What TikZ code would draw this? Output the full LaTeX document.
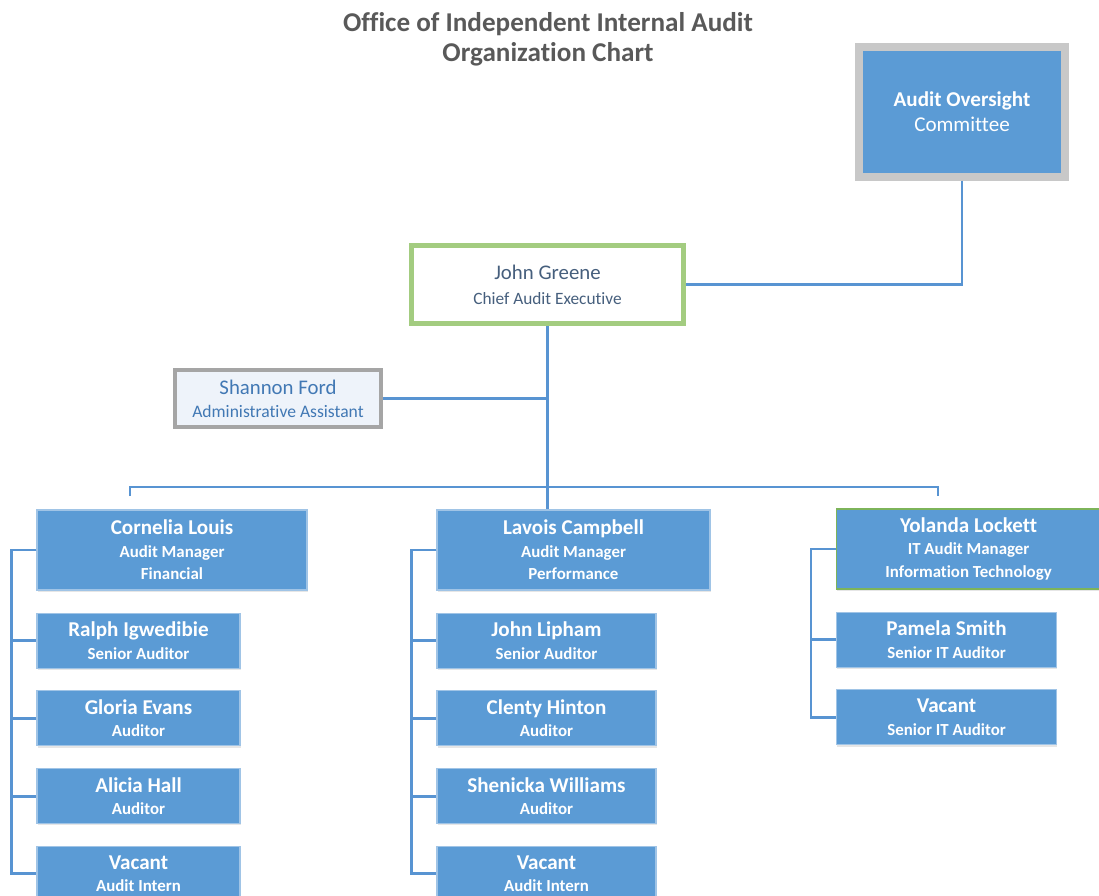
\documentclass[tikz,border=0pt]{standalone}
\usepackage{fontspec}
\setmainfont{Carlito}[Ligatures=NoCommon]
\usepackage{tikz}
\usetikzlibrary{positioning,calc,shadows}
\definecolor{boxblue}{RGB}{91,155,213}
\definecolor{boxedge}{RGB}{160,196,230}
\definecolor{linkblue}{RGB}{88,148,210}
\definecolor{framegreen}{RGB}{163,204,128}
\definecolor{yolgreen}{RGB}{125,180,90}
\definecolor{framegray}{RGB}{200,200,200}
\definecolor{assistgray}{RGB}{165,165,165}
\definecolor{assistfill}{RGB}{238,243,250}
\definecolor{titlegray}{RGB}{89,89,89}
\definecolor{ceotext}{RGB}{70,95,125}
\definecolor{assisttext}{RGB}{65,120,180}
\newcommand{\who}[1]{{\fontsize{15}{17}\selectfont #1}}

\begin{document}
\begin{tikzpicture}[
  x=0.025cm, y=-0.025cm,
  staff/.style={rectangle, draw=boxedge, line width=0.8pt, fill=boxblue,
    text=white, minimum height=1.375cm, align=center, inner sep=2pt,
    font=\bfseries\fontsize{12}{16}\selectfont,
    drop shadow={shadow xshift=0.5pt, shadow yshift=-1.2pt, opacity=0.2}},
  mgr/.style={staff, minimum width=6.75cm, minimum height=2cm},
  ceo/.style={rectangle, draw=framegreen, line width=3.5pt, fill=white,
    text=ceotext, minimum width=6.8cm, minimum height=1.95cm, align=center,
    font=\fontsize{12.3}{17.7}\selectfont},
  assist/.style={rectangle, draw=assistgray, line width=2.8pt, fill=assistfill,
    text=assisttext, minimum width=5.15cm, minimum height=1.425cm, align=center,
    font=\fontsize{12.5}{16.3}\selectfont},
  board/.style={rectangle, draw=framegray, line width=5.7pt, fill=boxblue,
    text=white, minimum width=5.125cm, minimum height=3.225cm, align=center,
    font=\fontsize{15}{17.7}\selectfont},
  title/.style={align=center, text=titlegray,
    font=\bfseries\fontsize{19.3}{21.5}\selectfont},
  link/.style={draw=linkblue, line width=2pt},
]
\useasboundingbox (0,0) rectangle (1099,895);
\node[title] (title) at (548,39)
  {Office of Independent Internal Audit\\Organization Chart};
\node[board] (oversight) at (962,112)
  {\textbf{Audit Oversight}\\Committee};
\node[ceo] (greene) at (547.5,284.5)
  {{\fontsize{14.8}{17}\selectfont John Greene}\\Chief Audit Executive};
\node[assist] (ford) at (278,398.5)
  {{\fontsize{14.8}{17}\selectfont Shannon Ford}\\Administrative Assistant};

\node[mgr] (louis) at (172,550)
  {\who{Cornelia Louis}\\Audit Manager\\Financial};
\node[mgr, minimum width=6.825cm] (campbell) at (573.5,550)
  {\who{Lavois Campbell}\\Audit Manager\\Performance};
\node[mgr, draw=yolgreen, minimum width=6.6cm, anchor=west] (lockett) at (836,549)
  {\who{Yolanda Lockett}\\IT Audit Manager\\Information Technology};

\node[staff, minimum width=5.075cm, below=0.55cm of louis.south west, anchor=north west] (igwedibie)
  {\who{Ralph Igwedibie}\\Senior Auditor};
\node[staff, minimum width=5.075cm, below=0.54cm of igwedibie.south west, anchor=north west] (evans)
  {\who{Gloria Evans}\\Auditor};
\node[staff, minimum width=5.075cm, below=0.54cm of evans.south west, anchor=north west] (hall)
  {\who{Alicia Hall}\\Auditor};
\node[staff, minimum width=5.075cm, below=0.54cm of hall.south west, anchor=north west] (internA)
  {\who{Vacant}\\Audit Intern};

\node[staff, minimum width=5.475cm, below=0.55cm of campbell.south west, anchor=north west] (lipham)
  {\who{John Lipham}\\Senior Auditor};
\node[staff, minimum width=5.475cm, below=0.54cm of lipham.south west, anchor=north west] (hinton)
  {\who{Clenty Hinton}\\Auditor};
\node[staff, minimum width=5.475cm, below=0.54cm of hinton.south west, anchor=north west] (williams)
  {\who{Shenicka Williams}\\Auditor};
\node[staff, minimum width=5.475cm, below=0.54cm of williams.south west, anchor=north west] (internB)
  {\who{Vacant}\\Audit Intern};

\node[staff, minimum width=5.5cm, below=0.55cm of lockett.south west, anchor=north west] (smith)
  {\who{Pamela Smith}\\Senior IT Auditor};
\node[staff, minimum width=5.5cm, below=0.54cm of smith.south west, anchor=north west] (itvacant)
  {\who{Vacant}\\Senior IT Auditor};

\coordinate (busL) at (130,487);
\coordinate (busR) at (938,487);

\draw[link] (oversight.south) |- (greene.east);
\draw[link] (greene.south) -- (greene.south |- campbell.north);
\draw[link] (ford.east) -- (ford.east -| greene.south);
\draw[link] ($(busL)+(0,9)$) -- (busL) -- (busR) -- ++(0,9);

\draw[link] (louis.west) -- ++(-0.625cm,0) |- (igwedibie.west);
\draw[link] (louis.west) -- ++(-0.625cm,0) |- (evans.west);
\draw[link] (louis.west) -- ++(-0.625cm,0) |- (hall.west);
\draw[link] (louis.west) -- ++(-0.625cm,0) |- (internA.west);
\draw[link] (campbell.west) -- ++(-0.625cm,0) |- (lipham.west);
\draw[link] (campbell.west) -- ++(-0.625cm,0) |- (hinton.west);
\draw[link] (campbell.west) -- ++(-0.625cm,0) |- (williams.west);
\draw[link] (campbell.west) -- ++(-0.625cm,0) |- (internB.west);
\draw[link] (lockett.west) -- ++(-0.625cm,0) |- (smith.west);
\draw[link] (lockett.west) -- ++(-0.625cm,0) |- (itvacant.west);
\end{tikzpicture}
\end{document}
